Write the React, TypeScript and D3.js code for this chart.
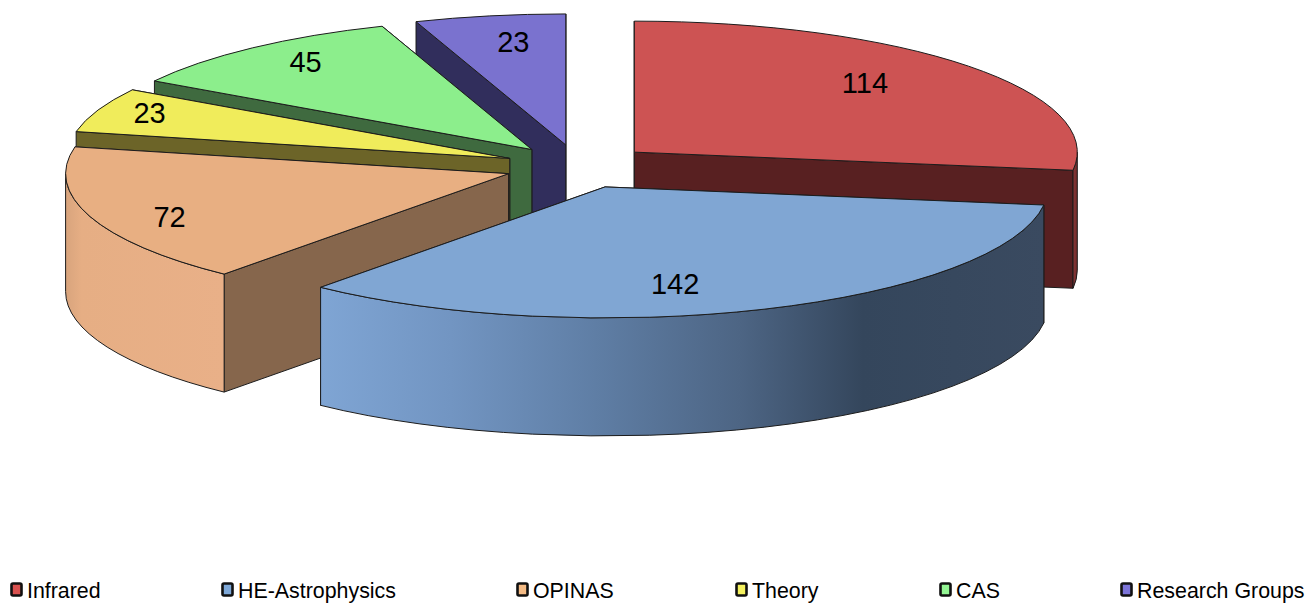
import React from "react";
import * as d3 from "d3";

const categories = ["Infrared", "HE-Astrophysics", "OPINAS", "Theory", "CAS", "Research Groups"];
const values = [114, 142, 72, 23, 45, 23];

const topColors = ["#cd5353", "#80a6d3", "#e8af82", "#f0ec5b", "#8cee8c", "#7a72cf"];
const faceColors = ["#582021", "#3a4a60", "#86664c", "#6c6428", "#3f6a3f", "#312e5c"];
const swatchColors = ["#d9514f", "#7ea8d8", "#f4bb85", "#f5f25f", "#93f593", "#7c74d8"];

// wall shading: [x offset as share of the full wall, colour]
const wallStops: [number, string][][] = [
  [[0, "#8a3838"], [1, "#6e2a2a"]],
  [[0, "#7fa5d4"], [0.18, "#7295c2"], [0.38, "#5f7ea5"], [0.58, "#4d6584"], [0.75, "#34465c"], [1, "#3a4a60"]],
  [[0, "#d8a47d"], [0.1, "#e6ae84"], [1, "#e9b088"]],
  [[0, "#6c6428"], [1, "#6c6428"]],
  [[0, "#3f6a3f"], [1, "#3f6a3f"]],
  [[0, "#312e5c"], [1, "#312e5c"]],
];

// label placement as a share of the radius, along the slice's middle angle
const labelShareX = [0.69, 0.44, 0.81, 0.875, 0.81, 0.69];
const labelShareY = [0.8, 0.79, 1.0, 0.93, 0.86, 0.8];

const legendTextX = [27, 238, 533, 752, 956, 1137];

const cx = 578.5, cy = 166.5, rx = 443, ry = 131, depth = 118, explode = 0.167;
const strokeColor = "#1c1c1c";
const paintOrder = [5, 4, 3, 2, 0, 1];

const pieGen = d3.pie<number>().sort(null).value((d) => d);
const arcs = pieGen(values);

function Wedge({ i }: { i: number }) {
  const a = arcs[i];
  const mid = (a.startAngle + a.endAngle) / 2;
  const ax = cx + explode * rx * Math.sin(mid);
  const ay = cy - explode * ry * Math.cos(mid);
  const pt = (t: number, dy = 0): [number, number] => [ax + rx * Math.sin(t), ay - ry * Math.cos(t) + dy];
  const [sx, sy] = pt(a.startAngle);
  const [ex, ey] = pt(a.endAngle);
  const large = a.endAngle - a.startAngle > Math.PI ? 1 : 0;
  const top = `M${ax},${ay}L${sx},${sy}A${rx},${ry} 0 ${large} 1 ${ex},${ey}Z`;
  const face = (x: number, y: number) =>
    `M${ax},${ay}L${x},${y}L${x},${y + depth}L${ax},${ay + depth}Z`;
  const w0 = Math.max(a.startAngle, Math.PI / 2);
  const w1 = Math.min(a.endAngle, (3 * Math.PI) / 2);
  let wall: string | null = null;
  if (w1 > w0) {
    const [p0x, p0y] = pt(w0);
    const [p1x, p1y] = pt(w1);
    wall = `M${p0x},${p0y}A${rx},${ry} 0 0 1 ${p1x},${p1y}L${p1x},${p1y + depth}A${rx},${ry} 0 0 0 ${p0x},${p0y + depth}Z`;
  }
  const gradX0 = Math.min(...d3.range(w0, w1 + 0.001, 0.02).map((t) => pt(t)[0]), pt(w1)[0]);
  const gradX1 = Math.max(...d3.range(w0, w1 + 0.001, 0.02).map((t) => pt(t)[0]), pt(w0)[0]);
  // the face that lies further back is painted first
  const faces = sy < ey ? [face(sx, sy), face(ex, ey)] : [face(ex, ey), face(sx, sy)];
  return (
    <g stroke={strokeColor} strokeWidth={1} strokeLinejoin="round">
      <path d={faces[0]} fill={faceColors[i]} />
      <path d={faces[1]} fill={faceColors[i]} />
      {wall && (
        <>
          <defs>
            <linearGradient id={`wall${i}`} gradientUnits="userSpaceOnUse" x1={gradX0} x2={gradX1} y1={0} y2={0}>
              {wallStops[i].map(([o, c]) => (
                <stop key={o} offset={o} stopColor={c} />
              ))}
            </linearGradient>
          </defs>
          <path d={wall} fill={`url(#wall${i})`} />
        </>
      )}
      <path d={top} fill={topColors[i]} />
    </g>
  );
}

export default function App() {
  return (
    <svg
      width={1310}
      height={603}
      viewBox="0 0 1310 603"
      style={{ position: "absolute", left: 0, top: 0, background: "#fff" }}
      fontFamily="'Liberation Sans', Arial, sans-serif"
    >
      {paintOrder.map((i) => (
        <Wedge key={i} i={i} />
      ))}
      {arcs.map((a, i) => {
        const mid = (a.startAngle + a.endAngle) / 2;
        const ax = cx + explode * rx * Math.sin(mid);
        const ay = cy - explode * ry * Math.cos(mid);
        return (
          <text
            key={i}
            x={ax + labelShareX[i] * rx * Math.sin(mid)}
            y={ay - labelShareY[i] * ry * Math.cos(mid) + 10}
            textAnchor="middle"
            fontSize={29}
            fill="#000"
          >
            {values[i]}
          </text>
        );
      })}
      {categories.map((c, i) => (
        <g key={c}>
          <rect
            x={legendTextX[i] - 15.5}
            y={583.5}
            width={10}
            height={12}
            rx={1.5}
            fill={swatchColors[i]}
            stroke="#111"
            strokeWidth={2.6}
          />
          <text transform={`translate(${legendTextX[i]},597.5) scale(0.93,1)`} fontSize={23} fill="#000">
            {c}
          </text>
        </g>
      ))}
    </svg>
  );
}
